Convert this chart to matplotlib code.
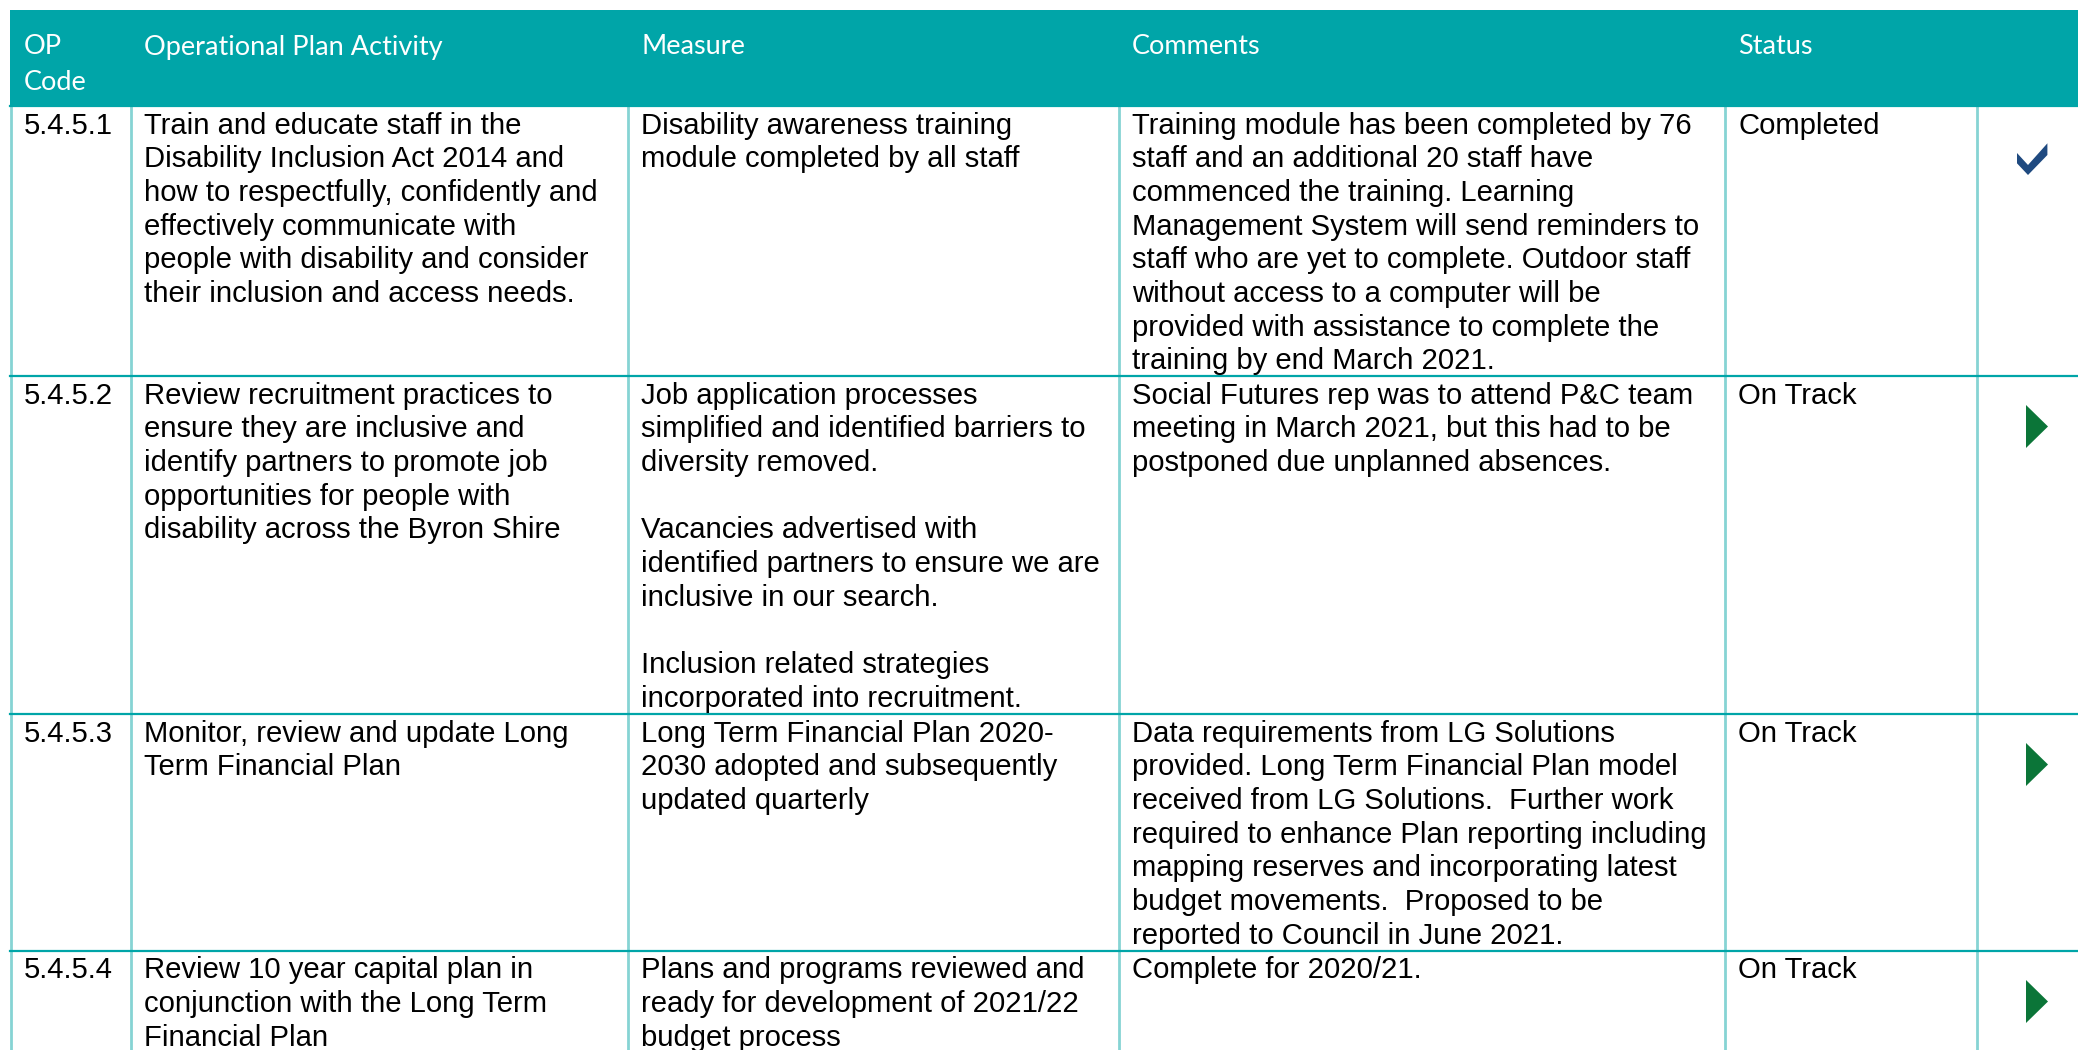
import matplotlib.pyplot as plt
from matplotlib.patches import Rectangle, Polygon

# table content
headers = ["OP\nCode", "Operational Plan Activity", "Measure", "Comments", "Status"]
codes = ["5.4.5.1", "5.4.5.2", "5.4.5.3", "5.4.5.4"]
activities = [
    "Train and educate staff in the\nDisability Inclusion Act 2014 and\nhow to respectfully, confidently and\n"
    "effectively communicate with\npeople with disability and consider\ntheir inclusion and access needs.",
    "Review recruitment practices to\nensure they are inclusive and\nidentify partners to promote job\n"
    "opportunities for people with\ndisability across the Byron Shire",
    "Monitor, review and update Long\nTerm Financial Plan",
    "Review 10 year capital plan in\nconjunction with the Long Term\nFinancial Plan",
]
measures = [
    "Disability awareness training\nmodule completed by all staff",
    "Job application processes\nsimplified and identified barriers to\ndiversity removed.\n\nVacancies advertised with\n"
    "identified partners to ensure we are\ninclusive in our search.\n\nInclusion related strategies\n"
    "incorporated into recruitment.",
    "Long Term Financial Plan 2020-\n2030 adopted and subsequently\nupdated quarterly",
    "Plans and programs reviewed and\nready for development of 2021/22\nbudget process",
]
comments = [
    "Training module has been completed by 76\nstaff and an additional 20 staff have\ncommenced the training. Learning\n"
    "Management System will send reminders to\nstaff who are yet to complete. Outdoor staff\n"
    "without access to a computer will be\nprovided with assistance to complete the\ntraining by end March 2021.",
    "Social Futures rep was to attend P&C team\nmeeting in March 2021, but this had to be\n"
    "postponed due unplanned absences.",
    "Data requirements from LG Solutions\nprovided. Long Term Financial Plan model\n"
    "received from LG Solutions.  Further work\nrequired to enhance Plan reporting including\n"
    "mapping reserves and incorporating latest\nbudget movements.  Proposed to be\nreported to Council in June 2021.",
    "Complete for 2020/21.",
]
statuses = ["Completed", "On Track", "On Track", "On Track"]

# layout (pixels)
W, H = 2078, 1050
col_x = [10, 130, 627, 1118, 1724, 1976, 2078]
row_y = [106, 376, 714, 951, 1060]
head_top = 10
pad = 14
line_h = 33.7

TEAL = "#00a5a8"
LIGHT = "#86d4d4"
CHECK = "#1f4a80"
ARROW = "#0b7538"

fig = plt.figure(figsize=(W / 100, H / 100), dpi=100)
ax = fig.add_axes([0, 0, 1, 1])
ax.set_xlim(0, W)
ax.set_ylim(H, 0)
ax.axis("off")

# header band
ax.add_patch(Rectangle((col_x[0], head_top), W - col_x[0], row_y[0] - head_top, color=TEAL, lw=0))
for i, h in enumerate(headers):
    for j, ln in enumerate(h.split("\n")):
        ax.text(col_x[i] + pad, 47 + j * 35.8, ln, color="white", fontsize=19.5,
                family="Lato", va="center", ha="left")

# grid lines
for x in col_x[:-1]:
    ax.plot([x + 1, x + 1], [row_y[0], H], color=LIGHT, lw=2)
for y in row_y[:-1]:
    ax.plot([col_x[0], W], [y, y], color=TEAL, lw=1.6)

# cells
for r in range(len(codes)):
    top = row_y[r]
    cells = [codes[r], activities[r], measures[r], comments[r], statuses[r]]
    for c, txt in enumerate(cells):
        for j, ln in enumerate(txt.split("\n")):
            ax.text(col_x[c] + pad, top + 19.5 + j * line_h, ln, fontsize=21.1,
                    family="Liberation Sans", va="center", ha="left", color="black")
    if statuses[r] == "Completed":
        pts = [(0, 10), (11, 22), (30.4, 0.3), (30.4, 12), (11, 32), (0, 20.3)]
        ax.add_patch(Polygon([(2017 + px, top + 37 + py) for px, py in pts], closed=True,
                             color=CHECK, lw=0))
    else:
        pts = [(0, 0), (22, 21.5), (0, 43)]
        ax.add_patch(Polygon([(2026 + px, top + 29 + py) for px, py in pts], closed=True,
                             color=ARROW, lw=0))

fig.savefig("out.png", dpi=100)
